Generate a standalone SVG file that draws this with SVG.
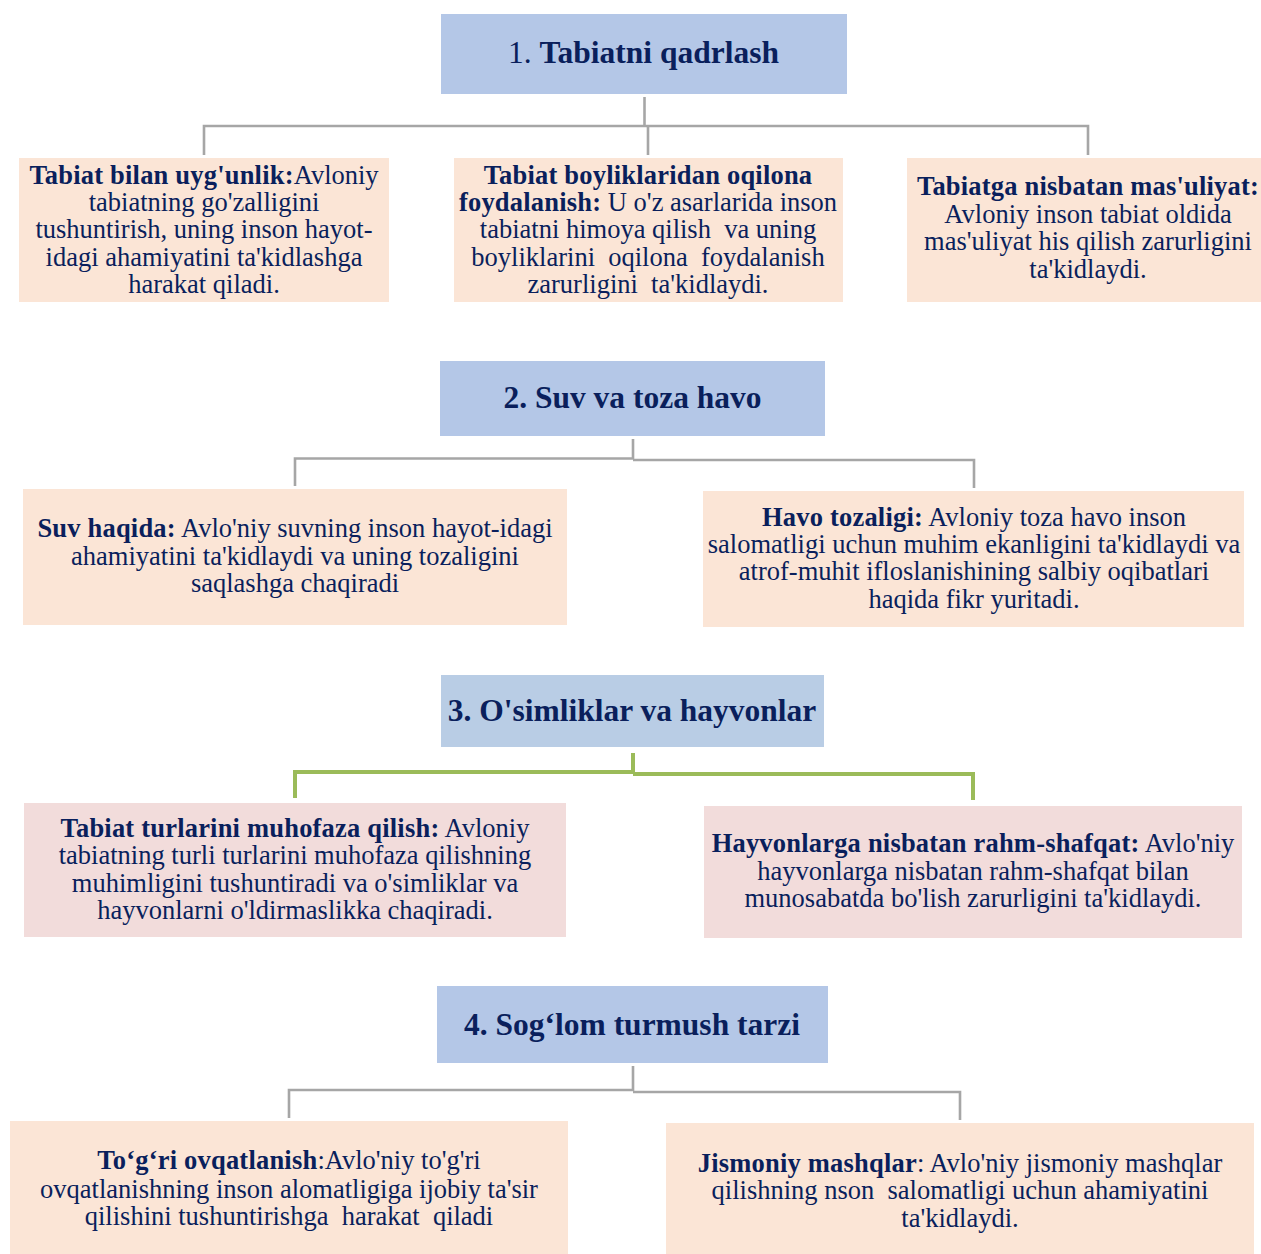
<svg xmlns="http://www.w3.org/2000/svg" width="1261" height="1254" viewBox="0 0 1261 1254">
<style>
.hdr{fill:#B4C7E7}
.hdr3{fill:#B9CDE5}
.peach{fill:#FBE5D6}
.pink{fill:#F2DCDB}
.ht{font-family:"Liberation Serif","Times New Roman",serif;font-size:31.5px;fill:#0A1F5C;text-anchor:middle}
.bt{font-family:"Liberation Serif","Times New Roman",serif;font-size:26.5px;fill:#0A1F5C;text-anchor:middle}
.b{font-weight:bold}
.bt .b{letter-spacing:0.2px}
.gl{fill:none;stroke:#A6A6A6;stroke-width:2.6}
.gr{fill:none;stroke:#9BBB59;stroke-width:4}
</style>
<rect width="1261" height="1254" fill="#FFFFFF"/>
<g id="connectors">
<polyline class="gl" points="644.5,97 644.5,126"/>
<polyline class="gl" points="204,155 204,126 1088,126 1088,155"/>
<polyline class="gl" points="648,126 648,155"/>
<polyline class="gl" points="633,439 633,459"/>
<polyline class="gl" points="295,486 295,458.5 633,458.5"/>
<polyline class="gl" points="633,460 974,460 974,488"/>
<polyline class="gr" points="633,753 633,772"/>
<polyline class="gr" points="295,798 295,772 633,772"/>
<polyline class="gr" points="633,774 973,774 973,800"/>
<polyline class="gl" points="633,1066 633,1091"/>
<polyline class="gl" points="289,1118 289,1090 633,1090"/>
<polyline class="gl" points="633,1092 960,1092 960,1120"/>
</g>
<g id="h1">
<rect class="hdr" x="441" y="14" width="406" height="80"/>
<text class="ht" x="643.5" y="63">1. <tspan class="b">Tabiatni qadrlash</tspan></text>
</g>
<g id="n1a">
<rect class="peach" x="19" y="158" width="370" height="144"/>
<text class="bt" xml:space="preserve"><tspan x="204" y="184"><tspan class="b">Tabiat bilan uyg'unlik:</tspan>Avloniy</tspan><tspan x="204" y="211">tabiatning go'zalligini</tspan><tspan x="204" y="238">tushuntirish, uning inson hayot-</tspan><tspan x="204" y="266">idagi ahamiyatini ta'kidlashga</tspan><tspan x="204" y="293">harakat qiladi.</tspan></text>
</g>
<g id="n1b">
<rect class="peach" x="454" y="158" width="389" height="144"/>
<text class="bt" xml:space="preserve"><tspan x="648" y="184" class="b">Tabiat boyliklaridan oqilona</tspan><tspan x="648" y="211"><tspan class="b">foydalanish:</tspan> U o'z asarlarida inson</tspan><tspan x="648" y="238">tabiatni himoya qilish  va uning</tspan><tspan x="648" y="266">boyliklarini  oqilona  foydalanish</tspan><tspan x="648" y="293">zarurligini  ta'kidlaydi.</tspan></text>
</g>
<g id="n1c">
<rect class="peach" x="907" y="158" width="354" height="144"/>
<text class="bt" xml:space="preserve"><tspan x="1088" y="195" class="b">Tabiatga nisbatan mas'uliyat:</tspan><tspan x="1088" y="223">Avloniy inson tabiat oldida</tspan><tspan x="1088" y="250">mas'uliyat his qilish zarurligini</tspan><tspan x="1088" y="278">ta'kidlaydi.</tspan></text>
</g>
<g id="h2">
<rect class="hdr" x="440" y="361" width="385" height="75"/>
<text class="ht b" x="632.5" y="408">2. Suv va toza havo</text>
</g>
<g id="n2a">
<rect class="peach" x="23" y="489" width="544" height="136"/>
<text class="bt" xml:space="preserve"><tspan x="295" y="537"><tspan class="b">Suv haqida:</tspan> Avlo'niy suvning inson hayot-idagi</tspan><tspan x="295" y="565">ahamiyatini ta'kidlaydi va uning tozaligini</tspan><tspan x="295" y="592">saqlashga chaqiradi</tspan></text>
</g>
<g id="n2b">
<rect class="peach" x="703" y="491" width="541" height="136"/>
<text class="bt" xml:space="preserve"><tspan x="974" y="526"><tspan class="b">Havo tozaligi:</tspan> Avloniy toza havo inson</tspan><tspan x="974" y="553">salomatligi uchun muhim ekanligini ta'kidlaydi va</tspan><tspan x="974" y="580">atrof-muhit ifloslanishining salbiy oqibatlari</tspan><tspan x="974" y="608">haqida fikr yuritadi.</tspan></text>
</g>
<g id="h3">
<rect class="hdr3" x="441" y="675" width="383" height="72"/>
<text class="ht b" x="632" y="721">3. O'simliklar va hayvonlar</text>
</g>
<g id="n3a">
<rect class="pink" x="24" y="803" width="542" height="134"/>
<text class="bt" xml:space="preserve"><tspan x="295" y="837"><tspan class="b">Tabiat turlarini muhofaza qilish:</tspan> Avloniy</tspan><tspan x="295" y="864">tabiatning turli turlarini muhofaza qilishning</tspan><tspan x="295" y="892">muhimligini tushuntiradi va o'simliklar va</tspan><tspan x="295" y="919">hayvonlarni o'ldirmaslikka chaqiradi.</tspan></text>
</g>
<g id="n3b">
<rect class="pink" x="704" y="806" width="538" height="132"/>
<text class="bt" xml:space="preserve"><tspan x="973" y="852"><tspan class="b">Hayvonlarga nisbatan rahm-shafqat:</tspan> Avlo'niy</tspan><tspan x="973" y="880">hayvonlarga nisbatan rahm-shafqat bilan</tspan><tspan x="973" y="907">munosabatda bo'lish zarurligini ta'kidlaydi.</tspan></text>
</g>
<g id="h4">
<rect class="hdr" x="437" y="986" width="391" height="77"/>
<text class="ht b" x="632" y="1035">4. Sog‘lom turmush tarzi</text>
</g>
<g id="n4a">
<rect class="peach" x="10" y="1121" width="558" height="133"/>
<text class="bt" xml:space="preserve"><tspan x="289" y="1169"><tspan class="b">To‘g‘ri ovqatlanish</tspan>:Avlo'niy to'g'ri</tspan><tspan x="289" y="1198">ovqatlanishning inson alomatligiga ijobiy ta'sir</tspan><tspan x="289" y="1225">qilishini tushuntirishga  harakat  qiladi</tspan></text>
</g>
<g id="n4b">
<rect class="peach" x="666" y="1123" width="588" height="131"/>
<text class="bt" xml:space="preserve"><tspan x="960" y="1172"><tspan class="b">Jismoniy mashqlar</tspan>: Avlo'niy jismoniy mashqlar</tspan><tspan x="960" y="1199">qilishning nson  salomatligi uchun ahamiyatini</tspan><tspan x="960" y="1227">ta'kidlaydi.</tspan></text>
</g>
</svg>
